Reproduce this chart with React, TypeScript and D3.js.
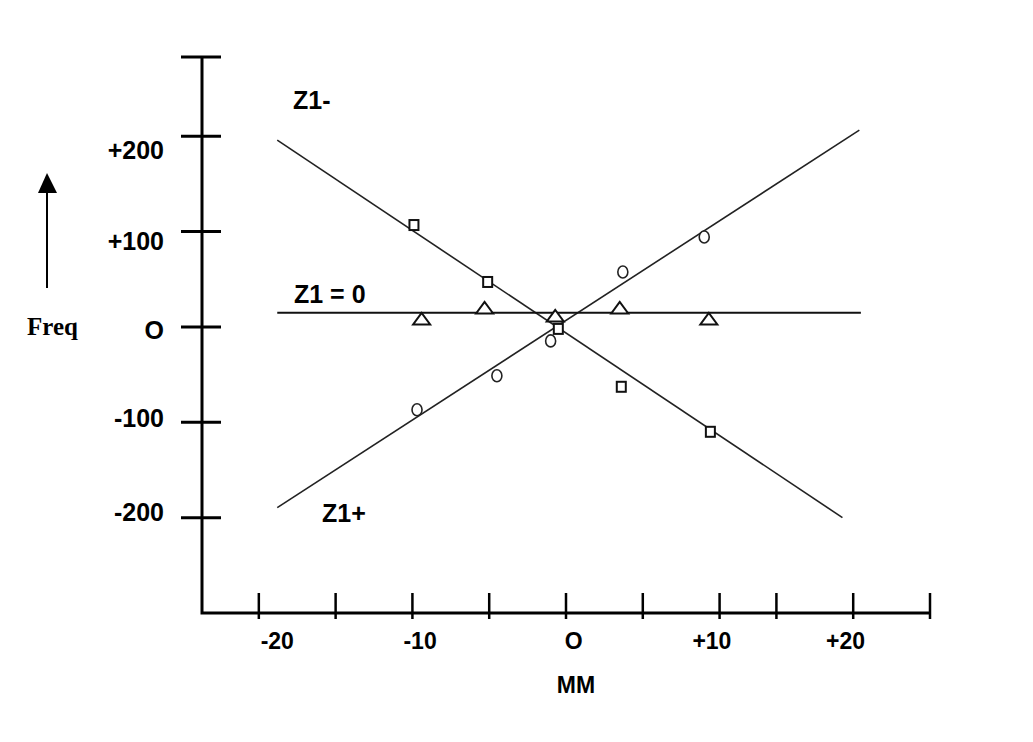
import React, { useRef, useEffect } from "react";
import * as d3 from "d3";

// tick positions as drawn on the original (hand drawn, last ticks are uneven)
const xTicks = [-20, -15, -10, -5, 0, 5, 10, 13.7, 18.7, 23.7];
const xLabels = ["-20", "-10", "O", "+10", "+20"];
const xLabelAt = [-18.8, -9.5, 0.5, 9.5, 18.2];

const yTicks = [283, 200, 100, 0, -100, -200];
const yLabels = ["+200", "+100", "O", "-100", "-200"];
const yLabelAt = [186, 90, -3, -96, -194];

// fitted lines (end points)
const z1MinusLine = [[-18.8, 195.8], [18.0, -200]];
const z1PlusLine = [[-18.8, -189.5], [19.1, 206.3]];
const z1ZeroLine = [[-18.8, 14.7], [19.2, 14.7]];

// measured points
const z1MinusPts = [[-9.9, 106.8], [-5.1, 47.1], [-0.5, -2.1], [3.6, -62.8], [9.4, -110]];
const z1PlusPts = [[-9.7, -86.9], [-4.5, -51.3], [-1.0, -14.7], [3.7, 57.6], [9.0, 94.2]];
const z1ZeroPts = [[-9.4, 8.4], [-5.3, 19.9], [-0.7, 11.5], [3.5, 19.9], [9.3, 8.4]];

const App = () => {
  const ref = useRef(null);

  useEffect(() => {
    const svg = d3.select(ref.current);
    svg.selectAll("*").remove();

    const x = d3.scaleLinear().domain([-23.7, 23.7]).range([202, 930]);
    const y = d3.scaleLinear().domain([-300, 283]).range([613, 57]);
    const font = "'Liberation Sans', Arial, sans-serif";

    svg.append("rect").attr("width", 1033).attr("height", 742).attr("fill", "#fff");

    const line = d3
      .line()
      .x((d) => x(d[0]))
      .y((d) => y(d[1]));

    // axes
    svg
      .append("path")
      .attr("d", `M${x(-23.7)},${y(283)}V${y(-300)}H${x(23.7)}`)
      .attr("fill", "none")
      .attr("stroke", "#000")
      .attr("stroke-width", 3);

    svg
      .append("g")
      .selectAll("line")
      .data(xTicks)
      .join("line")
      .attr("x1", (d) => x(d))
      .attr("x2", (d) => x(d))
      .attr("y1", y(-300) - 20)
      .attr("y2", y(-300) + 6)
      .attr("stroke", "#000")
      .attr("stroke-width", 2.5);

    svg
      .append("g")
      .selectAll("line")
      .data(yTicks)
      .join("line")
      .attr("x1", x(-23.7) - 21)
      .attr("x2", x(-23.7) + 19)
      .attr("y1", (d) => y(d))
      .attr("y2", (d) => y(d))
      .attr("stroke", "#000")
      .attr("stroke-width", 3);

    svg
      .append("g")
      .selectAll("text")
      .data(xLabels)
      .join("text")
      .attr("x", (d, i) => x(xLabelAt[i]))
      .attr("y", y(-300) + 36)
      .attr("text-anchor", "middle")
      .attr("font-family", font)
      .attr("font-weight", "bold")
      .attr("font-size", 23)
      .text((d) => d);

    svg
      .append("g")
      .selectAll("text")
      .data(yLabels)
      .join("text")
      .attr("x", 164)
      .attr("y", (d, i) => y(yLabelAt[i]))
      .attr("dy", "0.36em")
      .attr("text-anchor", "end")
      .attr("font-family", font)
      .attr("font-weight", "bold")
      .attr("font-size", 25)
      .text((d) => d);

    svg
      .append("text")
      .attr("x", 576)
      .attr("y", 693)
      .attr("text-anchor", "middle")
      .attr("font-family", font)
      .attr("font-weight", "bold")
      .attr("font-size", 23)
      .text("MM");

    // Freq arrow
    svg
      .append("line")
      .attr("x1", 47)
      .attr("x2", 47)
      .attr("y1", 190)
      .attr("y2", 288)
      .attr("stroke", "#000")
      .attr("stroke-width", 2);
    svg.append("path").attr("d", "M47,173L38,193L57,193Z").attr("fill", "#000");
    svg
      .append("text")
      .attr("x", 27)
      .attr("y", 335)
      .attr("font-family", "'Liberation Serif', 'Times New Roman', serif")
      .attr("font-weight", "bold")
      .attr("font-size", 25)
      .text("Freq");

    // lines
    [z1MinusLine, z1PlusLine].forEach((l) =>
      svg
        .append("path")
        .datum(l)
        .attr("d", line)
        .attr("fill", "none")
        .attr("stroke", "#222")
        .attr("stroke-width", 1.6)
    );
    svg
      .append("path")
      .datum(z1ZeroLine)
      .attr("d", line)
      .attr("fill", "none")
      .attr("stroke", "#111")
      .attr("stroke-width", 2);

    // markers
    svg
      .append("g")
      .selectAll("rect")
      .data(z1MinusPts)
      .join("rect")
      .attr("x", (d) => x(d[0]) - 4.5)
      .attr("y", (d) => y(d[1]) - 5)
      .attr("width", 9)
      .attr("height", 10)
      .attr("fill", "#fff")
      .attr("stroke", "#111")
      .attr("stroke-width", 2);

    svg
      .append("g")
      .selectAll("ellipse")
      .data(z1PlusPts)
      .join("ellipse")
      .attr("cx", (d) => x(d[0]))
      .attr("cy", (d) => y(d[1]))
      .attr("rx", 5)
      .attr("ry", 6)
      .attr("fill", "#fff")
      .attr("stroke", "#222")
      .attr("stroke-width", 1.6);

    svg
      .append("g")
      .selectAll("path")
      .data(z1ZeroPts)
      .join("path")
      .attr("d", (d) => {
        const cx = x(d[0]),
          cy = y(d[1]);
        return `M${cx},${cy - 6}L${cx - 8.5},${cy + 5.5}L${cx + 8.5},${cy + 5.5}Z`;
      })
      .attr("fill", "#fff")
      .attr("stroke", "#111")
      .attr("stroke-width", 2);

    // series labels
    const labels = [
      { t: "Z1-", x: 293, y: 109 },
      { t: "Z1 = 0", x: 294, y: 303 },
      { t: "Z1+", x: 322, y: 522 },
    ];
    svg
      .append("g")
      .selectAll("text")
      .data(labels)
      .join("text")
      .attr("x", (d) => d.x)
      .attr("y", (d) => d.y)
      .attr("font-family", font)
      .attr("font-weight", "bold")
      .attr("font-size", 25)
      .text((d) => d.t);
  }, []);

  return (
    <svg
      ref={ref}
      width={1033}
      height={742}
      style={{ position: "absolute", left: 0, top: 0 }}
    />
  );
};

export default App;
